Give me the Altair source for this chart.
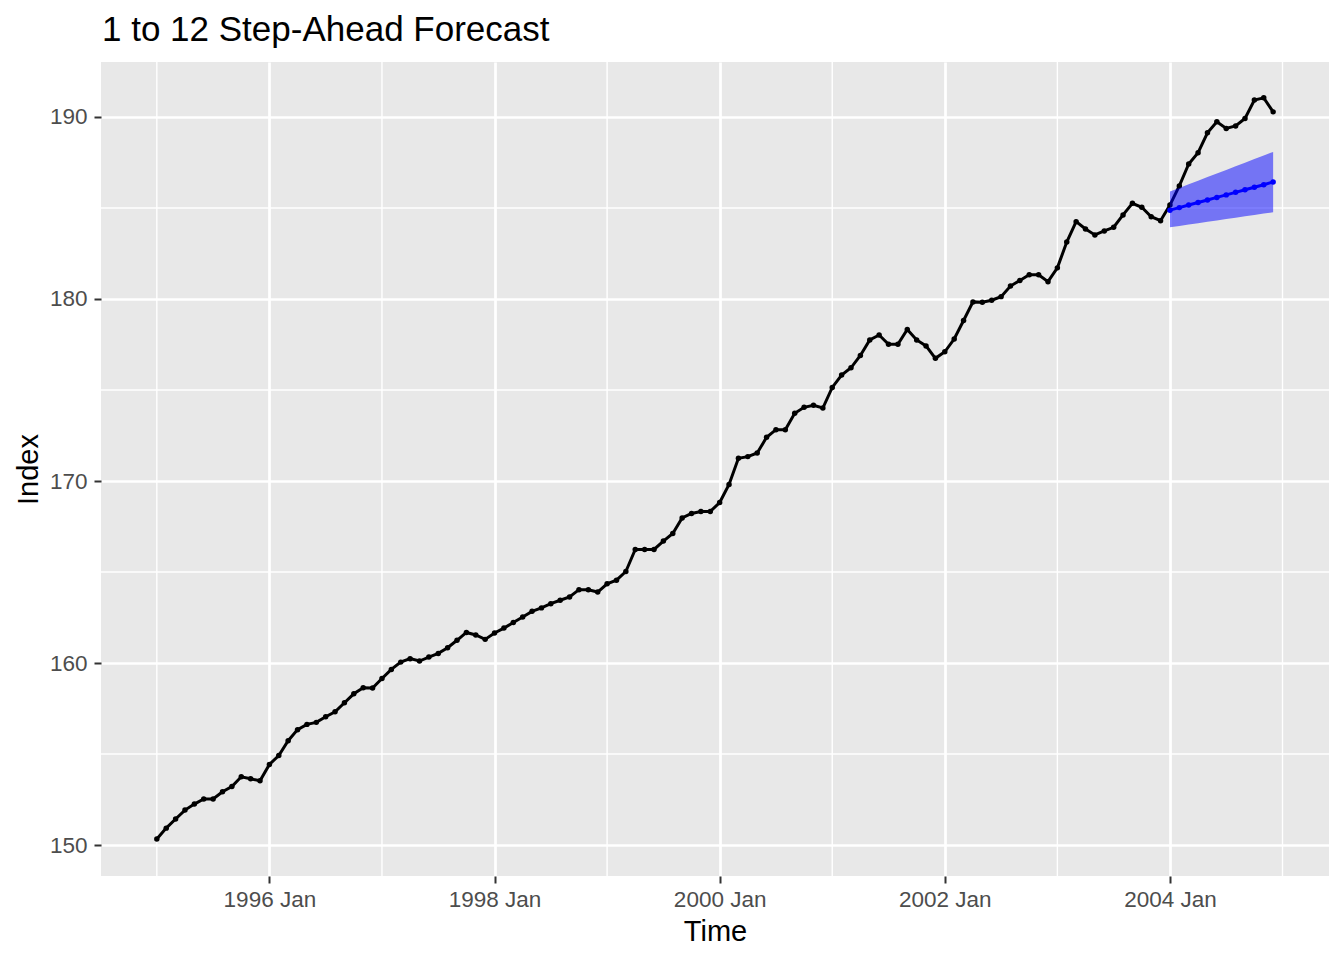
import altair as alt
import pandas as pd

# Monthly index, 1995 Jan .. 2004 Dec
start_year = 1995
actual = [
    150.33, 150.93, 151.43, 151.92, 152.25, 152.53, 152.53, 152.93, 153.22, 153.75, 153.64, 153.53,
    154.43, 154.92, 155.73, 156.34, 156.63, 156.74, 157.05, 157.32, 157.82, 158.31, 158.64, 158.63,
    159.15, 159.65, 160.05, 160.24, 160.11, 160.33, 160.53, 160.84, 161.25, 161.68, 161.54, 161.30,
    161.65, 161.92, 162.23, 162.53, 162.84, 163.03, 163.26, 163.45, 163.63, 164.03, 164.03, 163.90,
    164.35, 164.55, 165.03, 166.24, 166.24, 166.24, 166.70, 167.12, 167.97, 168.22, 168.33, 168.33,
    168.82, 169.81, 171.25, 171.34, 171.54, 172.40, 172.82, 172.82, 173.72, 174.05, 174.16, 174.01,
    175.14, 175.82, 176.22, 176.90, 177.75, 178.02, 177.51, 177.51, 178.33, 177.75, 177.42, 176.74,
    177.10, 177.80, 178.82, 179.84, 179.82, 179.93, 180.13, 180.71, 181.02, 181.33, 181.33, 180.95,
    181.71, 183.13, 184.25, 183.85, 183.52, 183.74, 183.94, 184.62, 185.26, 185.04, 184.52, 184.30,
    185.16, 186.21, 187.42, 188.04, 189.13, 189.74, 189.37, 189.51, 189.92, 190.93, 191.05, 190.28,
]

# Forecast 2004 Jan .. 2004 Dec
fc_start_year = 2004
fc_mean = [184.88, 185.02, 185.16, 185.30, 185.44, 185.58, 185.72, 185.86, 186.00, 186.14, 186.28, 186.43]
fc_upper = [185.90, 186.10, 186.30, 186.50, 186.70, 186.90, 187.09, 187.29, 187.49, 187.69, 187.89, 188.08]
fc_lower = [183.94, 184.01, 184.09, 184.16, 184.24, 184.31, 184.39, 184.46, 184.54, 184.61, 184.69, 184.76]

title_text = ["1 to 12 Step-Ahead Forecast"]
x_major = [1996, 1998, 2000, 2002, 2004]
x_minor = [1995, 1997, 1999, 2001, 2003, 2005]
y_major = [150, 160, 170, 180, 190]
y_minor = [155, 165, 175, 185]

df_act = pd.DataFrame({
    "t": [start_year + i / 12 for i in range(len(actual))],
    "v": actual,
})
df_fc = pd.DataFrame({
    "t": [fc_start_year + i / 12 for i in range(len(fc_mean))],
    "mean": fc_mean,
    "lo": fc_lower,
    "hi": fc_upper,
})
df_xminor = pd.DataFrame({"t": x_minor})
df_yminor = pd.DataFrame({"v": y_minor})
df_title = pd.DataFrame({"label": title_text})

FONT = "Liberation Sans"
x_scale = alt.Scale(domain=[1994.504, 2005.413], nice=False, zero=False)
y_scale = alt.Scale(domain=[148.3, 193.02], nice=False, zero=False)

x_axis = alt.Axis(
    values=x_major,
    labelExpr="format(datum.value, 'd') + ' Jan'",
    title="Time",
    titleFontSize=29,
    titleFontWeight="normal",
    titleColor="black",
    titleFont=FONT,
    titleBaseline="alphabetic",
    titleY=64,
    labelPadding=5,
)
y_axis = alt.Axis(
    values=y_major,
    format="d",
    title="Index",
    titleFontSize=29,
    titleFontWeight="normal",
    titleColor="black",
    titleFont=FONT,
    titleAngle=270,
    titleBaseline="alphabetic",
    titleAlign="center",
    titleX=-64,
    titleY=407,
    labelPadding=7,
)

base_x = alt.X("t:Q", scale=x_scale, axis=x_axis)

minor_x = alt.Chart(df_xminor).mark_rule(color="white", strokeWidth=1.4).encode(
    x=alt.X("t:Q", scale=x_scale, axis=x_axis)
)
minor_y = alt.Chart(df_yminor).mark_rule(color="white", strokeWidth=1.4).encode(
    y=alt.Y("v:Q", scale=y_scale, axis=y_axis)
)

act_line = alt.Chart(df_act).mark_line(color="black", strokeWidth=3).encode(
    x=base_x, y=alt.Y("v:Q", scale=y_scale, axis=y_axis)
)
act_pts = alt.Chart(df_act).mark_circle(color="black", opacity=1, size=30).encode(
    x=base_x, y=alt.Y("v:Q", scale=y_scale, axis=y_axis)
)
band = alt.Chart(df_fc).mark_area(color="blue", opacity=0.5).encode(
    x=base_x, y=alt.Y("lo:Q", scale=y_scale, axis=y_axis), y2="hi:Q"
)
fc_line = alt.Chart(df_fc).mark_line(color="blue", strokeWidth=3).encode(
    x=base_x, y=alt.Y("mean:Q", scale=y_scale, axis=y_axis)
)
fc_pts = alt.Chart(df_fc).mark_circle(color="blue", opacity=1, size=30).encode(
    x=base_x, y=alt.Y("mean:Q", scale=y_scale, axis=y_axis)
)
title_mark = alt.Chart(df_title).mark_text(
    align="left", baseline="alphabetic", font=FONT, fontSize=35, color="black"
).encode(
    x=alt.value(1), y=alt.value(-21), text="label:N"
)

chart = alt.layer(minor_x, minor_y, act_line, act_pts, band, fc_line, fc_pts, title_mark).properties(
    width=1228,
    height=814,
    padding={"left": 93, "top": 54, "right": 7, "bottom": 70},
    autosize="none",
).configure_view(
    fill="#E8E8E8", stroke=None
).configure_axis(
    grid=True,
    gridColor="white",
    gridWidth=2.7,
    domain=False,
    tickColor="#333333",
    tickWidth=2,
    tickSize=7,
    labelFont=FONT,
    labelFontSize=22.5,
    labelColor="#4D4D4D",
)

chart.save("out.html", embed_options={"renderer": "svg", "actions": False})
